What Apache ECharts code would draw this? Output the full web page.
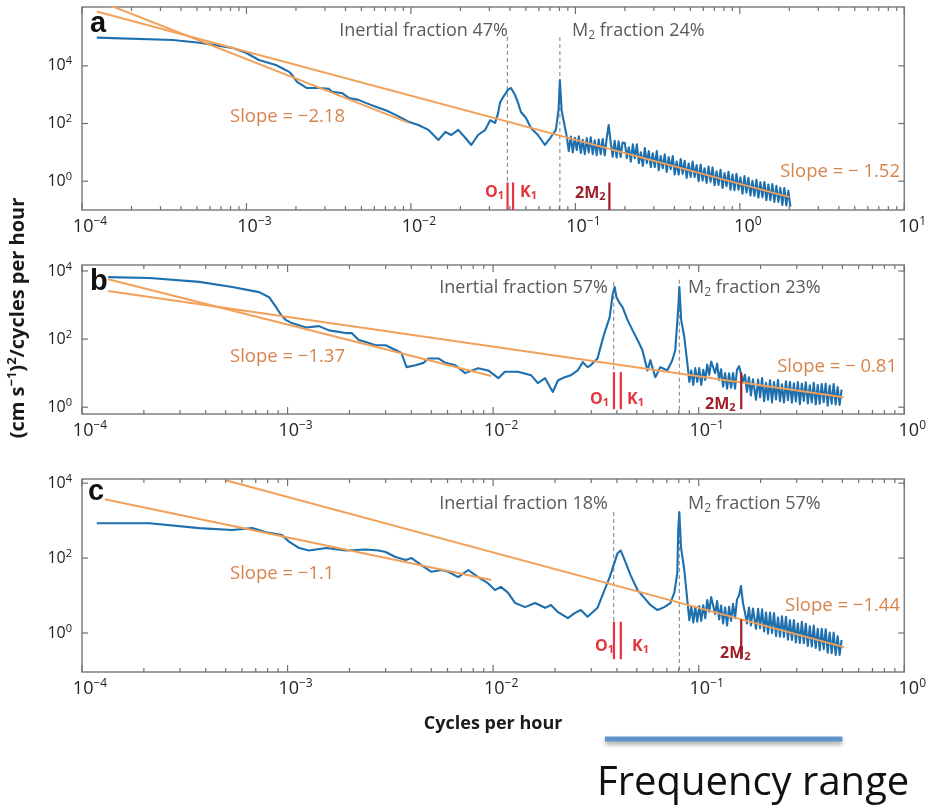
<!DOCTYPE html>
<html><head><meta charset="utf-8">
<script src="https://cdn.jsdelivr.net/npm/echarts@6/dist/echarts.min.js"></script>
<style>html,body{margin:0;padding:0;background:#fff}#c{width:929px;height:806px}</style>
</head><body><div id="c"></div>
<script>
// ---------- DATA (frequency in cycles per hour, PSD in (cm s^-1)^2 / cph) ----------
const specA = [
[1.23e-4,9.5e4],[3.56e-4,7.9e4],[5.2e-4,6.3e4],[8.2e-4,4.2e4],[1.0e-3,2.8e4],[1.19e-3,1.6e4],[1.51e-3,1.07e4],[1.82e-3,6.2e3],[1.89e-3,4.9e3],[2.03e-3,2.8e3],[2.33e-3,1.7e3],[2.76e-3,1.7e3],[3.17e-3,1.6e3],[3.31e-3,1.25e3],[3.80e-3,1.15e3],[4.19e-3,770],[4.81e-3,660],[5.31e-3,520],[6.11e-3,380],[7.02e-3,290],[8.07e-3,200],[9.67e-3,115],[1.11e-2,89],[1.28e-2,60],[1.47e-2,27],[1.62e-2,51],[1.76e-2,40],[1.94e-2,60],[2.14e-2,32],[2.33e-2,18],[2.56e-2,40],[2.83e-2,60],[3.03e-2,130],[3.25e-2,105],[3.39e-2,230],[3.48e-2,520],[3.64e-2,830],[3.90e-2,1500],[4.06e-2,1700],[4.30e-2,970],[4.48e-2,520],[4.67e-2,250],[5.01e-2,155],[5.37e-2,70],[5.92e-2,40],[6.53e-2,18],[7.10e-2,34],[7.61e-2,60],[7.90e-2,290],[8.05e-2,3200],[8.25e-2,290],
[0.0863,76],[0.0887,35],[0.0912,11],[0.0938,35],[0.0965,10],[0.0992,32],[0.1020,12],[0.1049,36],[0.1079,9.5],[0.1109,27],[0.1141,8.7],[0.1173,31],[0.1206,10],[0.1240,33],[0.1275,8.7],[0.1311,26],[0.1348,8.0],[0.1387,28],[0.1426,8.7],[0.1466,29],[0.1508,7.9],[0.1550,30],[0.1594,89],[0.1639,23],[0.1686,7.1],[0.1733,25],[0.1782,6.6],[0.1833,24],[0.1885,6.9],[0.1938,22],
[0.200,21],[0.2057,6.3],[0.2115,15],[0.2175,4.8],[0.2236,19],[0.2300,6.2],[0.2365,19],[0.2432,4.2],[0.2500,10],[0.2571,3.4],[0.2644,14],[0.2719,4.2],[0.2796,11],[0.2875,3.1],[0.2956,9.3],[0.3040,3.1],[0.3126,11],[0.3214,2.4],[0.3305,7.4],[0.3399,2.8],[0.3495,8.5],[0.3594,2.1],[0.3695,6.8],[0.3800,2.6],[0.3907,7.4],[0.4018,1.7],[0.4132,4.8],[0.4249,1.7],[0.4369,5.9],[0.4492,1.8],[0.4619,5.1],[0.4750,1.3],[0.4885,4.1],[0.5023,1.4],[0.5165,4.8],[0.5311,1.4],[0.5461,3.6],[0.5616,1.0],[0.5775,3.8],[0.5938,1.05],[0.6106,2.8],[0.6279,0.87],[0.6456,3.2],[0.6639,0.95],[0.6827,3.0],[0.7020,0.72],[0.7219,2.2],[0.7423,0.74],[0.7633,2.5],[0.7849,0.58],[0.8071,1.9],[0.8300,0.67],[0.8534,2.1],[0.8776,0.51],[0.9024,1.7],[0.9280,0.49],[0.9542,1.8],[0.9812,0.51],[1.009,1.35],[1.038,0.37],[1.067,1.5],[1.097,0.40],[1.128,1.3],[1.160,0.32],[1.193,1.02],[1.227,0.31],[1.262,1.12],[1.297,0.27],[1.334,0.92],[1.372,0.28],[1.411,0.94],[1.450,0.22],[1.491,0.77],[1.534,0.22],[1.577,0.79],[1.622,0.19],[1.668,0.69],[1.715,0.19],[1.763,0.59],[1.813,0.15],[1.865,0.58],[1.917,0.145],[1.972,0.46],[2.03,0.13]
];
const specB = [
[1.34e-4,6.6e3],[2.13e-4,6.2e3],[3.72e-4,4.8e3],[5.38e-4,3.4e3],[7.27e-4,2.4e3],[8.13e-4,1.7e3],[8.79e-4,870],[9.3e-4,510],[9.84e-4,360],[1.05e-3,295],[1.23e-3,220],[1.42e-3,240],[1.59e-3,180],[1.92e-3,150],[2.05e-3,150],[2.22e-3,94],[2.40e-3,82],[2.68e-3,66],[3.0e-3,66],[3.35e-3,48],[3.58e-3,39],[3.79e-3,15],[4.19e-3,17],[4.58e-3,20],[4.84e-3,27],[5.42e-3,27],[5.86e-3,20],[6.55e-3,17],[7.31e-3,10],[8.45e-3,14],[9.46e-3,12],[1.06e-2,7.1],[1.14e-2,11],[1.32e-2,11],[1.53e-2,8.7],[1.65e-2,5.1],[1.79e-2,7.1],[1.95e-2,2.8],[2.07e-2,6.2],[2.23e-2,7.6],[2.39e-2,8.7],[2.58e-2,12],[2.73e-2,21],[2.88e-2,15],[2.98e-2,17],[3.22e-2,27],[3.33e-2,58],[3.48e-2,150],[3.69e-2,440],[3.81e-2,2000],[3.90e-2,3400],[3.98e-2,1700],[4.12e-2,1150],[4.26e-2,870],[4.51e-2,360],[4.77e-2,180],[5.04e-2,94],[5.32e-2,48],[5.63e-2,12],[5.82e-2,24],[6.15e-2,7.6],[6.51e-2,15],[7.03e-2,12],[7.44e-2,24],[7.69e-2,48],[7.96e-2,870],[8.05e-2,3400],[8.22e-2,360],[8.51e-2,115],
[0.0880,20],[0.0900,5.5],[0.0920,12],[0.0941,4.5],[0.0962,14],[0.0984,5.5],[0.1006,14],[0.1029,4.5],[0.1052,12.6],[0.1076,6.3],[0.1100,18],[0.1125,8.9],[0.1150,22],[0.1176,24],[0.1202,10],[0.1229,19],[0.1257,6.3],[0.1285,13],[0.1314,4.0],[0.1344,10],[0.1374,3.5],[0.1405,9.8],[0.1437,3.7],[0.1469,10],[0.1502,3.5],[0.1536,12.6],[0.1571,16],[0.1606,15],[0.1642,5.6],[0.1679,8.9],[0.1717,2.8],[0.1756,7.6],[0.1795,2.2],[0.1836,6.6],
[0.186,5.9],[0.190,1.65],[0.1945,6.5],[0.1989,1.95],[0.2034,7.2],[0.2080,1.5],[0.2126,5.2],[0.2174,1.65],[0.2223,6.2],[0.2273,1.38],[0.2324,5.5],[0.2377,1.7],[0.2430,6.3],[0.2485,1.5],[0.2541,4.7],[0.2598,1.37],[0.2657,5.8],[0.2717,1.62],[0.2778,5.5],[0.2840,1.35],[0.2904,5.0],[0.2970,1.47],[0.3036,5.5],[0.3105,1.23],[0.3175,4.9],[0.3246,1.52],[0.3319,5.4],[0.3394,1.28],[0.3470,4.4],[0.3549,1.38],[0.3628,5.2],[0.3710,1.2],[0.3794,4.5],[0.3879,1.27],[0.3967,4.8],[0.4056,1.41],[0.4147,4.9],[0.4241,1.1],[0.4336,4.3],[0.4434,1.26],[0.4534,4.8],[0.4636,1.2],[0.4740,3.9],[0.4847,1.17],[0.4956,3.3]
];
const specC = [
[1.18e-4,850],[2.13e-4,850],[3.72e-4,630],[5.38e-4,560],[6.73e-4,630],[7.87e-4,490],[9.4e-4,410],[1.02e-3,270],[1.14e-3,185],[1.27e-3,160],[1.54e-3,185],[1.92e-3,160],[2.40e-3,170],[2.77e-3,160],[3.0e-3,145],[3.35e-3,107],[3.75e-3,89],[4.01e-3,100],[4.48e-3,65],[5.01e-3,43],[5.6e-3,48],[6.05e-3,43],[6.76e-3,31],[7.57e-3,48],[8.45e-3,31],[9.46e-3,21],[1.02e-2,14],[1.09e-2,17],[1.18e-2,12],[1.28e-2,6.3],[1.43e-2,4.9],[1.60e-2,6.3],[1.79e-2,4.7],[1.91e-2,5.6],[2.07e-2,3.6],[2.31e-2,2.5],[2.49e-2,3.4],[2.67e-2,4.1],[2.88e-2,2.7],[3.22e-2,4.7],[3.48e-2,14],[3.69e-2,31],[3.90e-2,78],[4.03e-2,135],[4.17e-2,160],[4.36e-2,89],[4.66e-2,35],[5.04e-2,14],[5.45e-2,8.5],[5.82e-2,5.6],[6.3e-2,4.1],[6.8e-2,4.9],[7.28e-2,6.3],[7.61e-2,12],[7.87e-2,40],[7.95e-2,560],[8.05e-2,1700],[8.2e-2,195],[8.51e-2,48],
[0.0880,7.6],[0.0900,2.2],[0.0920,5.1],[0.0941,1.9],[0.0962,5.0],[0.0984,2.0],[0.1006,5.2],[0.1029,2.1],[0.1052,5.5],[0.1076,2.5],[0.1100,7.6],[0.1125,3.7],[0.1150,9.1],[0.1176,8.5],[0.1202,3.2],[0.1229,7.1],[0.1257,2.3],[0.1285,5.4],[0.1314,1.8],[0.1344,4.8],[0.1374,1.6],[0.1405,5.0],[0.1437,2.1],[0.1469,6.0],[0.1502,2.5],[0.1536,7.9],[0.1571,10],[0.1606,18],[0.1642,6.3],[0.1679,3.5],[0.1717,1.8],[0.1756,4.8],[0.1795,1.6],[0.1836,4.5],
[0.186,4.0],[0.190,1.3],[0.1945,4.4],[0.1989,1.35],[0.2034,4.3],[0.2080,1.1],[0.2126,3.5],[0.2174,0.96],[0.2223,3.5],[0.2273,1.0],[0.2324,3.4],[0.2377,0.83],[0.2430,2.6],[0.2485,0.80],[0.2541,2.8],[0.2598,0.79],[0.2657,2.7],[0.2717,0.66],[0.2778,2.2],[0.2840,0.65],[0.2904,2.2],[0.2970,0.56],[0.3036,1.8],[0.3105,0.54],[0.3175,2.0],[0.3246,0.54],[0.3319,1.75],[0.3394,0.45],[0.3470,1.5],[0.3549,0.44],[0.3628,1.58],[0.3710,0.40],[0.3794,1.3],[0.3879,0.35],[0.3967,1.29],[0.4056,0.37],[0.4147,1.25],[0.4241,0.30],[0.4336,1.03],[0.4434,0.29],[0.4534,1.02],[0.4636,0.26],[0.4740,0.82],[0.4847,0.26],[0.4956,0.65]
];
// power-law fits (end points)
const fitA1 = [[1.2e-4,2.0e6],[9.7e-3,105]];
const fitA2 = [[1.23e-4,7.7e5],[2.0,0.28]];
const fitB1 = [[1.34e-4,5.7e3],[9.8e-3,8.2]];
const fitB2 = [[1.34e-4,2.6e3],[0.507,1.95]];
const fitC1 = [[1.29e-4,3.7e3],[9.8e-3,26]];
const fitC2 = [[5.0e-4,1.2e4],[0.51,0.42]];
// constituent / inertial frequencies (cph)
const inertialFreq = 0.0386, O1 = 0.0387, K1 = 0.0418, M2 = 0.0805, M2x2 = 0.161;
// vertical extents of marker lines [top, bottom] per panel
const markA = {inertial:[1.0e5,0.9], m2:[1.0e5,0.1], ok:[0.9,0.1], m4:[0.9,0.1]};
const markB = {inertial:[4.8e3,10.7], m2:[5.5e3,0.63], ok:[10.7,0.87], m4:[10.4,0.87]};
const markC = {inertial:[1.7e3,1.95], m2:[1.7e3,0.091], ok:[2.0,0.2], m4:[2.3,0.2]};
// axis tick values
const xDecadesA = [1e-4,1e-3,1e-2,1e-1,1,10];
const xDecadesBC = [1e-4,1e-3,1e-2,1e-1,1];
const yTickVals = [1,100,1e4];
const freqRange = [0.035,0.50];
// panel texts
const fractions = [['47%','24%'],['57%','23%'],['18%','57%']];
const slopes = [['−2.18','− 1.52'],['−1.37','− 0.81'],['−1.1','−1.44']];

// ---------- CHART ----------
const FONT = '"Open Sans","DejaVu Sans",sans-serif';
const BLUE = '#1e6fae', ORANGE = '#f2a15a', SLOPE_TXT = '#d6844c', GRAY_TXT = '#5a5a5a';
const RED = '#e3353d', DARKRED = '#9f1d28', FRAME = '#808080';
const chart = echarts.init(document.getElementById('c'));

const gridDefs = [
  {left:82, top:7, width:826, height:203},
  {left:82, top:265, width:826, height:149},
  {left:82, top:479, width:826, height:193}
];
const xExt = [[1e-4,10],[1e-4,1],[1e-4,1]];
const yExt = [[0.1,1.1e6],[0.63,1.5e4],[0.091,1.29e4]];
const specs = [specA,specB,specC];
const fits = [[fitA1,fitA2],[fitB1,fitB2],[fitC1,fitC2]];
const marks = [markA,markB,markC];
const decs = [xDecadesA,xDecadesBC,xDecadesBC];

function sup(e){ return e < 0 ? '−' + (-e) : String(e); }
const labRich = {
  b:{fontSize:18, fontFamily:FONT, color:'#222'},
  s:{fontSize:12, fontFamily:FONT, color:'#222', padding:[0,0,10,0]}
};

const grid = gridDefs.map(g => ({...g, show:true, borderColor:FRAME, borderWidth:1.5, backgroundColor:'#fff', containLabel:false}));
const xAxis = xExt.map((ext,i) => ({
  type:'log', logBase:10, gridIndex:i, min:ext[0], max:ext[1],
  axisLine:{show:false}, axisTick:{show:false}, splitLine:{show:false},
  axisLabel:{margin:6, padding:[0,0,0,16], rich:labRich, formatter:v=>{
    const l = Math.log10(v), e = Math.round(l);
    if (Math.abs(l-e) > 1e-6) return '';
    return '{b|10}{s|' + sup(e) + '}';
  }}
}));
xAxis[2].name = 'Cycles per hour';
xAxis[2].nameLocation = 'middle';
xAxis[2].nameGap = 43;
xAxis[2].nameTextStyle = {fontFamily:FONT, fontWeight:'bold', fontSize:18, color:'#1a1a1a'};

const yAxis = yExt.map((ext,i) => ({
  type:'log', logBase:10, gridIndex:i, min:ext[0], max:ext[1],
  axisLine:{show:false}, axisTick:{show:false}, splitLine:{show:false},
  axisLabel:{margin:10, rich:{b:{fontSize:16, fontFamily:FONT, color:'#222'}, s:{fontSize:11, fontFamily:FONT, color:'#222', padding:[0,0,9,0]}},
    formatter:v=>{
      const l = Math.log10(v), e = Math.round(l);
      if (Math.abs(l-e) > 1e-6 || yTickVals.indexOf(Math.pow(10,e)) < 0) return '';
      return '{b|10}{s|' + sup(e) + '}';
    }}
}));

const series = [];
for (let i = 0; i < 3; i++) {
  const m = marks[i];
  const vline = (f, ext, color, w, dashed, z) => ({
    type:'line', xAxisIndex:i, yAxisIndex:i, data:[[f,ext[0]],[f,ext[1]]], symbol:'none', silent:true, z,
    lineStyle:{color, width:w, type: dashed ? [4,3] : 'solid'}
  });
  series.push(vline(inertialFreq, m.inertial, '#8a8a8a', 1.1, true, 1));
  series.push(vline(M2, m.m2, '#8a8a8a', 1.1, true, 1));
  series.push({type:'line', xAxisIndex:i, yAxisIndex:i, data:specs[i], symbol:'none', silent:true, z:2,
    lineStyle:{color:BLUE, width:2.1, join:'round'}});
  fits[i].forEach(f => series.push({type:'line', xAxisIndex:i, yAxisIndex:i, data:f, symbol:'none', silent:true, z:3,
    lineStyle:{color:ORANGE, width:2}}));
  series.push(vline(O1, m.ok, RED, 2.2, false, 4));
  series.push(vline(K1, m.ok, RED, 2.2, false, 4));
  series.push(vline(M2x2, m.m4, DARKRED, 2.2, false, 4));
  // x ticks (major decades + minor 2..9), top and bottom
  const yb = yExt[i][0], xb = xExt[i][0];
  const xt = [];
  decs[i].forEach((d,j) => { xt.push([d,yb,1]); if (j < decs[i].length-1) for (let k=2;k<=9;k++) xt.push([d*k,yb,0]); });
  series.push({type:'custom', xAxisIndex:i, yAxisIndex:i, silent:true, clip:false, z:6, encode:{x:0,y:1}, data:xt,
    renderItem(params, api){
      const cs = params.coordSys;
      const x = api.coord([api.value(0), api.value(1)])[0];
      const L = api.value(2) ? 7 : 4;
      const b = cs.y + cs.height, t = cs.y;
      return {type:'group', children:[
        {type:'line', shape:{x1:x,y1:b,x2:x,y2:b-L}, style:{stroke:'#707070', lineWidth:1.2}},
        {type:'line', shape:{x1:x,y1:t,x2:x,y2:t+L}, style:{stroke:'#707070', lineWidth:1.2}}
      ]};
    }});
  series.push({type:'custom', xAxisIndex:i, yAxisIndex:i, silent:true, clip:false, z:6, encode:{x:0,y:1},
    data: yTickVals.map(v => [xb, v]),
    renderItem(params, api){
      const cs = params.coordSys;
      const y = api.coord([api.value(0), api.value(1)])[1];
      const l = cs.x, r = cs.x + cs.width;
      return {type:'group', children:[
        {type:'line', shape:{x1:l,y1:y,x2:l+6,y2:y}, style:{stroke:'#707070', lineWidth:1.2}},
        {type:'line', shape:{x1:r,y1:y,x2:r-6,y2:y}, style:{stroke:'#707070', lineWidth:1.2}}
      ]};
    }});
}

function txt(x, y, text, rich, align, extra) {
  return Object.assign({type:'text', x, y, silent:true, z:100, style:{text, rich, align, textAlign:align, verticalAlign:'middle', textVerticalAlign:'middle'}}, extra || {});
}
const richGray = {m:{fontSize:18, fontFamily:FONT, fill:GRAY_TXT}, s:{fontSize:12, fontFamily:FONT, fill:GRAY_TXT, padding:[9,0,0,0]}};
const richSlope = {m:{fontSize:18.5, fontFamily:FONT, fill:SLOPE_TXT}};
const richRed = {m:{fontSize:16, fontFamily:FONT, fontWeight:'bold', fill:RED}, s:{fontSize:11, fontFamily:FONT, fontWeight:'bold', fill:RED, padding:[8,0,0,0]}};
const richDark = {m:{fontSize:16, fontFamily:FONT, fontWeight:'bold', fill:DARKRED}, s:{fontSize:11, fontFamily:FONT, fontWeight:'bold', fill:DARKRED, padding:[8,0,0,0]}};
const richLetter = {m:{fontSize:29, fontFamily:'"Liberation Sans",Arial,sans-serif', fontWeight:'bold', fill:'#111'}};

const letters = ['a','b','c'];
const P = [ // text anchor positions per panel
  {let:[90,24], inert:[508,31], m2:[572,31], s1:[230,117], s2:[900,172], o1:[485,192], k1:[520,192], m4:[575,193]},
  {let:[90,282], inert:[608,288], m2:[688,288], s1:[230,357], s2:[897,367], o1:[590,399], k1:[627,399], m4:[705,404]},
  {let:[88,492], inert:[608,504], m2:[688,504], s1:[230,574], s2:[900,606], o1:[595,646], k1:[632,646], m4:[720,653]}
];
const graphics = [];
P.forEach((p,i) => {
  graphics.push(txt(p.let[0], p.let[1], '{m|' + letters[i] + '}', richLetter, 'left'));
  graphics.push(txt(p.inert[0], p.inert[1], '{m|Inertial fraction ' + fractions[i][0] + '}', richGray, 'right'));
  graphics.push(txt(p.m2[0], p.m2[1], '{m|M}{s|2}{m| fraction ' + fractions[i][1] + '}', richGray, 'left'));
  graphics.push(txt(p.s1[0], p.s1[1], '{m|Slope = ' + slopes[i][0] + '}', richSlope, 'left'));
  graphics.push(txt(p.s2[0], p.s2[1], '{m|Slope = ' + slopes[i][1] + '}', richSlope, 'right'));
  graphics.push(txt(p.o1[0], p.o1[1], '{m|O}{s|1}', richRed, 'left'));
  graphics.push(txt(p.k1[0], p.k1[1], '{m|K}{s|1}', richRed, 'left'));
  graphics.push(txt(p.m4[0], p.m4[1], '{m|2M}{s|2}', richDark, 'left'));
});
graphics.push(txt(18, 318, '{t|(cm s}{p|−1}{t|)}{p|2}{t|/cycles per hour}',
  {t:{fontSize:20, fontFamily:FONT, fontWeight:'bold', fill:'#1a1a1a'}, p:{fontSize:13, fontFamily:FONT, fontWeight:'bold', fill:'#1a1a1a', padding:[0,0,11,0]}},
  'center', {rotation:Math.PI/2}));
graphics.push(txt(597, 784, '{m|Frequency range}', {m:{fontSize:40, fontFamily:FONT, fill:'#111'}}, 'left'));

chart.setOption({animation:false, backgroundColor:'#fff', grid, xAxis, yAxis, series, graphic:graphics});

// frequency-range bar below panel c, positioned through panel c's x axis
const xa = chart.convertToPixel({xAxisIndex:2}, freqRange[0]);
const xb2 = chart.convertToPixel({xAxisIndex:2}, freqRange[1]);
graphics.push({type:'line', silent:true, z:100, shape:{x1:xa, y1:739, x2:xb2, y2:739},
  style:{stroke:'#6093cc', lineWidth:5, shadowBlur:4, shadowOffsetY:3, shadowColor:'rgba(0,0,0,0.35)'}});
chart.setOption({graphic:graphics});
</script></body></html>
